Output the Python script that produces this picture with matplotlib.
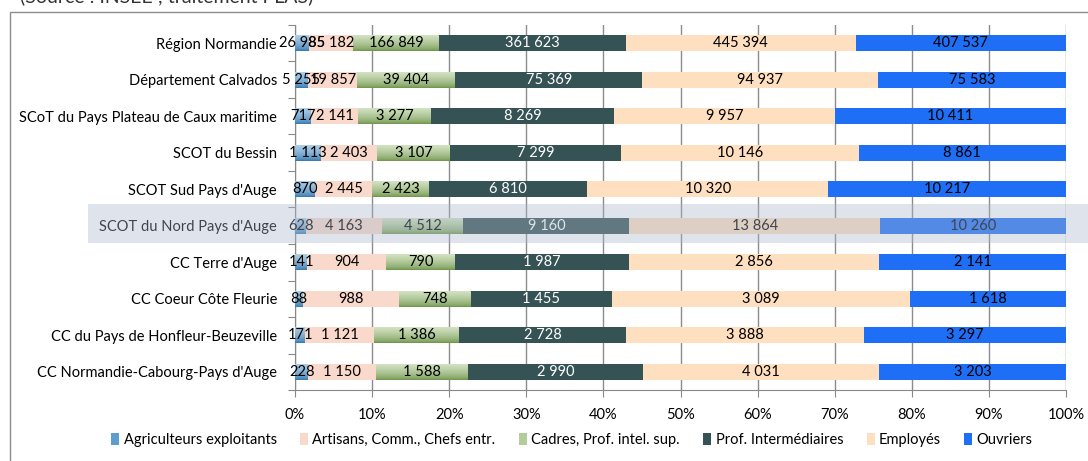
import numpy as np
import matplotlib
matplotlib.use("Agg")
import matplotlib.pyplot as plt
from matplotlib.patches import Rectangle
from matplotlib.colors import to_rgb

plt.rcParams['font.family'] = ['Lato', 'DejaVu Sans']

territories = [
    "Région Normandie",
    "Département Calvados",
    "SCoT du Pays Plateau de Caux maritime",
    "SCOT du Bessin",
    "SCOT Sud Pays d'Auge",
    "SCOT du Nord Pays d'Auge",
    "CC Terre d'Auge",
    "CC Coeur Côte Fleurie",
    "CC du Pays de Honfleur-Beuzeville",
    "CC Normandie-Cabourg-Pays d'Auge",
]

categories = ["Agriculteurs exploitants", "Artisans, Comm., Chefs entr.",
              "Cadres, Prof. intel. sup.", "Prof. Intermédiaires",
              "Employés", "Ouvriers"]

agriculteurs = [26985, 5255, 717, 1113, 870, 628, 141, 88, 171, 228]
artisans = [85182, 19857, 2141, 2403, 2445, 4163, 904, 988, 1121, 1150]
cadres = [166849, 39404, 3277, 3107, 2423, 4512, 790, 748, 1386, 1588]
prof_inter = [361623, 75369, 8269, 7299, 6810, 9160, 1987, 1455, 2728, 2990]
employes = [445394, 94937, 9957, 10146, 10320, 13864, 2856, 3089, 3888, 4031]
ouvriers = [407537, 75583, 10411, 8861, 10217, 10260, 2141, 1618, 3297, 3203]

series = [agriculteurs, artisans, cadres, prof_inter, employes, ouvriers]
colors = ["#5d9ccf", "#f9d9cb", "#b3cd9a", "#355254", "#fedfbf", "#1e6ff5"]
text_colors = ["black", "black", "black", "white", "black", "black"]
# gradients (bottom, top) for the Excel-like shaded bars
gradients = {0: ("#2f74ad", "#b3d2ea"), 2: ("#6a9144", "#d6e6c7")}


def fmt(v):
    return f"{v:,}".replace(",", " ")


fig = plt.figure(figsize=(10.88, 4.61), dpi=100)
ax = fig.add_axes([295 / 1088, 1 - 390 / 461, 771 / 1088, 365 / 461])

n = len(territories)
ypos = np.arange(n)[::-1]
totals = np.array(series).sum(axis=0)
left = np.zeros(n)
bar_h = 0.45

for k, vals in enumerate(series):
    vals = np.array(vals)
    pct = vals / totals * 100
    bars = ax.barh(ypos, pct, left=left, height=bar_h, color=colors[k],
                   edgecolor="none", label=categories[k], zorder=3)
    if k in gradients:
        c0 = np.array(to_rgb(gradients[k][0]))
        c1 = np.array(to_rgb(gradients[k][1]))
        t = np.linspace(0, 1, 64) ** 0.6
        grad = (c0[None, :] * (1 - t[:, None]) + c1[None, :] * t[:, None])[:, None, :]
        for p in bars:
            x0, y0, w, h = p.get_x(), p.get_y(), p.get_width(), p.get_height()
            im = ax.imshow(grad, extent=(x0, x0 + w, y0, y0 + h), origin="lower",
                           aspect="auto", zorder=3, interpolation="bilinear")
            im.set_clip_path(p)
    for y, l, w, v in zip(ypos, left, pct, vals):
        ax.text(l + w / 2, y, fmt(v), ha="center", va="center",
                fontsize=10.5, color=text_colors[k], zorder=5)
    left = left + pct

ax.set_xlim(0, 100)
ax.set_ylim(-0.5, n - 0.5)
ax.set_xticks(np.arange(0, 101, 10))
ax.set_xticklabels([f"{v}%" for v in range(0, 101, 10)], fontsize=10.5)
ax.set_yticks(np.arange(n + 1) - 0.5)
ax.set_yticklabels([])
ax.set_yticks(ypos, minor=True)
ax.set_yticklabels(territories, minor=True, fontsize=10.5)
ax.tick_params(axis="y", which="minor", length=0, pad=13)
ax.tick_params(axis="y", which="major", length=5, color="#888888")
ax.tick_params(axis="x", length=5, color="#888888", pad=8)
ax.grid(axis="x", color="#8c8c8c", linewidth=1, zorder=0)
for s in ["top", "right"]:
    ax.spines[s].set_visible(False)
for s in ["left", "bottom"]:
    ax.spines[s].set_color("#888888")

ax.legend(loc="center", bbox_to_anchor=((572 - 295) / 771, -50 / 365), ncol=6,
          frameon=False, fontsize=10.5, handlelength=0.55, handleheight=0.9,
          handletextpad=0.3, columnspacing=1.6)

# outer chart frame (cut by the image border)
fig.patches.append(Rectangle((10 / 1088, -0.1), 1.2, 1 - 12 / 461 + 0.1,
                             transform=fig.transFigure, fill=False,
                             edgecolor="#8c8c8c", linewidth=1))
fig.text(20 / 1088, 1 + 4 / 461, "(Source : INSEE ; traitement PLAS)",
         fontsize=14, va="center", ha="left", color="#333333")

# highlighted row
fig.patches.append(Rectangle((88 / 1088, 1 - 243 / 461), 1000 / 1088, 39 / 461,
                             transform=fig.transFigure, facecolor=(169 / 255, 183 / 255, 205 / 255),
                             alpha=0.38, edgecolor="none", zorder=10))

fig.savefig("out.png", dpi=100)
